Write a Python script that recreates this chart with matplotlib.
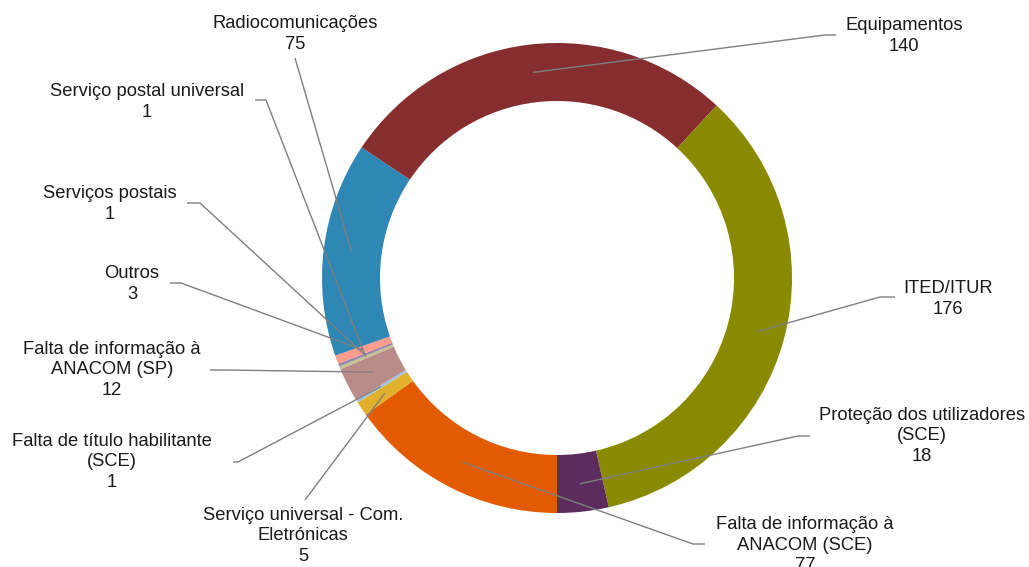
import numpy as np
import matplotlib.pyplot as plt

plt.rcParams['font.family'] = ['Liberation Sans', 'DejaVu Sans']

# slices in drawing order, starting at the bottom and going clockwise
labels = [
    "Falta de informação à\nANACOM (SCE)",
    "Serviço universal - Com.\nEletrónicas",
    "Falta de título habilitante\n(SCE)",
    "Falta de informação à\nANACOM (SP)",
    "Serviço postal universal",
    "Serviços postais",
    "Outros",
    "Radiocomunicações",
    "Equipamentos",
    "ITED/ITUR",
    "Proteção dos utilizadores\n(SCE)",
]
values = [77, 5, 1, 12, 1, 1, 3, 75, 140, 176, 18]
colors = ["#E35B00", "#E2B12C", "#9EC4E4", "#BA8C89", "#C6C48F", "#9A86AA",
          "#FF9C8C", "#2E87B5", "#862D2F", "#8A8A00", "#5C2C5E"]

# label layout (pixel coords): text centre, leader start next to the text,
# and the elbow where the slanted part of the leader begins
text_pos = [(805, 545), (303, 536), (112, 462), (112, 370), (147, 102),
            (110, 204), (132, 284), (295, 34), (904, 36), (948, 299), (922, 436)]
elbow_a = [(705, 544), (305, 500), (233, 462), (210, 370), (255, 100),
           (187, 203), (170, 283), (295, 58), (836, 35), (895, 297), (810, 436)]
elbow_b = [(693, 544), (305, 500), (238, 462), (225, 370), (266, 100),
           (200, 203), (181, 283), (295, 58), (825, 35), (880, 297), (798, 436)]

W, H = 1029, 567
cx, cy, R, ring = 557, 278, 235, 58

fig = plt.figure(figsize=(W / 100, H / 100), dpi=100)
ax = fig.add_axes([0, 0, 1, 1])

ax.pie(values, colors=colors, center=(cx, H - cy), radius=R,
       startangle=-90, counterclock=False,
       wedgeprops=dict(width=ring, linewidth=0))

ax.set_aspect('auto')
ax.set_xlim(0, W)
ax.set_ylim(0, H)
ax.axis('off')

# leader lines and labels
total = float(sum(values))
cum = np.cumsum([0] + values[:-1])
r_anchor = R - 28
for i, (lab, v) in enumerate(zip(labels, values)):
    theta = np.deg2rad(180 + (cum[i] + v / 2) / total * 360)
    axx = cx + r_anchor * np.sin(theta)
    axy = (H - cy) + r_anchor * np.cos(theta)
    xa, ya = elbow_a[i]
    xb, yb = elbow_b[i]
    ax.plot([xa, xb, axx], [H - ya, H - yb, axy], color="#7F7F7F", lw=1,
            solid_capstyle='butt')
    tx, ty = text_pos[i]
    ax.text(tx, H - ty, f"{lab}\n{v}", ha='center', va='center',
            multialignment='center', fontsize=13.2, linespacing=1.25,
            color="#1a1a1a")

fig.savefig("out.png", dpi=100)
